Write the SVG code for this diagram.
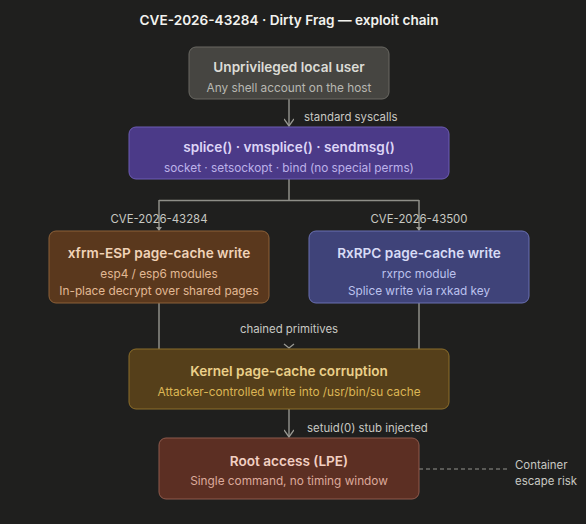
<svg xmlns="http://www.w3.org/2000/svg" width="586" height="524" viewBox="0 0 586 524">
<defs>
<marker id="arr" viewBox="0 0 10 10" refX="9" refY="5" markerWidth="10" markerHeight="10" markerUnits="userSpaceOnUse" orient="auto">
<path d="M2 0 L9 5 L2 10" fill="none" stroke="#9a9a94" stroke-width="1.3"/>
</marker>
</defs>
<style>
text{font-family:Inter,"Liberation Sans",sans-serif;text-anchor:middle}
.t{font-size:13.6px;font-weight:600}
.s{font-size:11.8px}
.lbl{font-size:11.4px;fill:#c8c8c2}
.ln{stroke:#8e8e88;stroke-width:1.5;fill:none}
</style>
<rect width="586" height="524" fill="#1f1f1e"/>
<text x="289" y="25" style="font-size:13.6px;font-weight:600" fill="#f2f2ee">CVE-2026-43284 · Dirty Frag — exploit chain</text>
<g id="connectors">
<path class="ln" d="M289 99 V126" marker-end="url(#arr)"/>
<text class="lbl" x="304" y="121" style="text-anchor:start">standard syscalls</text>
<path class="ln" d="M289 179 V200.5 M159 200.5 H419 M159 200 V230 M419 200 V230"/>
<path d="M156 227 L162 227 L159 231 Z" fill="#9a9a94"/>
<path d="M416 227 L422 227 L419 231 Z" fill="#9a9a94"/>
<text class="lbl" x="159" y="223">CVE-2026-43284</text>
<text class="lbl" x="419" y="223">CVE-2026-43500</text>
<path class="ln" d="M159 303 V349 M419 303 V349"/>
<text class="lbl" x="289" y="333">chained primitives</text>
<path d="M284 344 L289 348 L294 344" fill="none" stroke="#9a9a94" stroke-width="1.3"/>
<path class="ln" d="M289 409 V437" marker-end="url(#arr)"/>
<text class="lbl" x="307" y="432" style="text-anchor:start">setuid(0) stub injected</text>
<path d="M419 469 H507" stroke="#6e6e6a" stroke-width="1.3" stroke-dasharray="4 3"/>
<text class="lbl" x="515" y="469" style="text-anchor:start">Container</text>
<text class="lbl" x="515" y="485" style="text-anchor:start">escape risk</text>
</g>
<g id="n1">
<rect x="189" y="47" width="200" height="52" rx="7" fill="#464541" stroke="#6a6963" stroke-width="1"/>
<text class="t" x="289" y="72" fill="#dcdcd6">Unprivileged local user</text>
<text class="s" x="289" y="92" fill="#b8b8b2">Any shell account on the host</text>
</g>
<g id="n2">
<rect x="129" y="127" width="320" height="52" rx="7" fill="#4b3a88" stroke="#6d5cb4" stroke-width="1"/>
<text class="t" x="289" y="152" fill="#ddd5f7">splice() · vmsplice() · sendmsg()</text>
<text class="s" x="289" y="172" fill="#bdb2ea">socket · setsockopt · bind (no special perms)</text>
</g>
<g id="n3">
<rect x="49" y="231" width="220" height="72" rx="7" fill="#5a381d" stroke="#8c6038" stroke-width="1"/>
<text class="t" x="159" y="258" fill="#f0d3b8">xfrm-ESP page-cache write</text>
<text class="s" x="159" y="278" fill="#e2b894">esp4 / esp6 modules</text>
<text class="s" x="159" y="295" fill="#e2b894">In-place decrypt over shared pages</text>
</g>
<g id="n4">
<rect x="309" y="231" width="220" height="72" rx="7" fill="#3f4379" stroke="#6a70b2" stroke-width="1"/>
<text class="t" x="419" y="258" fill="#d8dcf6">RxRPC page-cache write</text>
<text class="s" x="419" y="278" fill="#bcc2ee">rxrpc module</text>
<text class="s" x="419" y="295" fill="#bcc2ee">Splice write via rxkad key</text>
</g>
<g id="n5">
<rect x="129" y="349" width="320" height="60" rx="7" fill="#553f1a" stroke="#8c6e2a" stroke-width="1"/>
<text class="t" x="289" y="376" fill="#ebd08a">Kernel page-cache corruption</text>
<text class="s" x="289" y="396" fill="#dcb655">Attacker-controlled write into /usr/bin/su cache</text>
</g>
<g id="n6">
<rect x="159" y="438" width="260" height="61" rx="7" fill="#5c2f23" stroke="#8e5a4c" stroke-width="1"/>
<text class="t" x="289" y="466" fill="#f2cfc2">Root access (LPE)</text>
<text class="s" x="289" y="485" fill="#dcaa9b">Single command, no timing window</text>
</g>
</svg>
